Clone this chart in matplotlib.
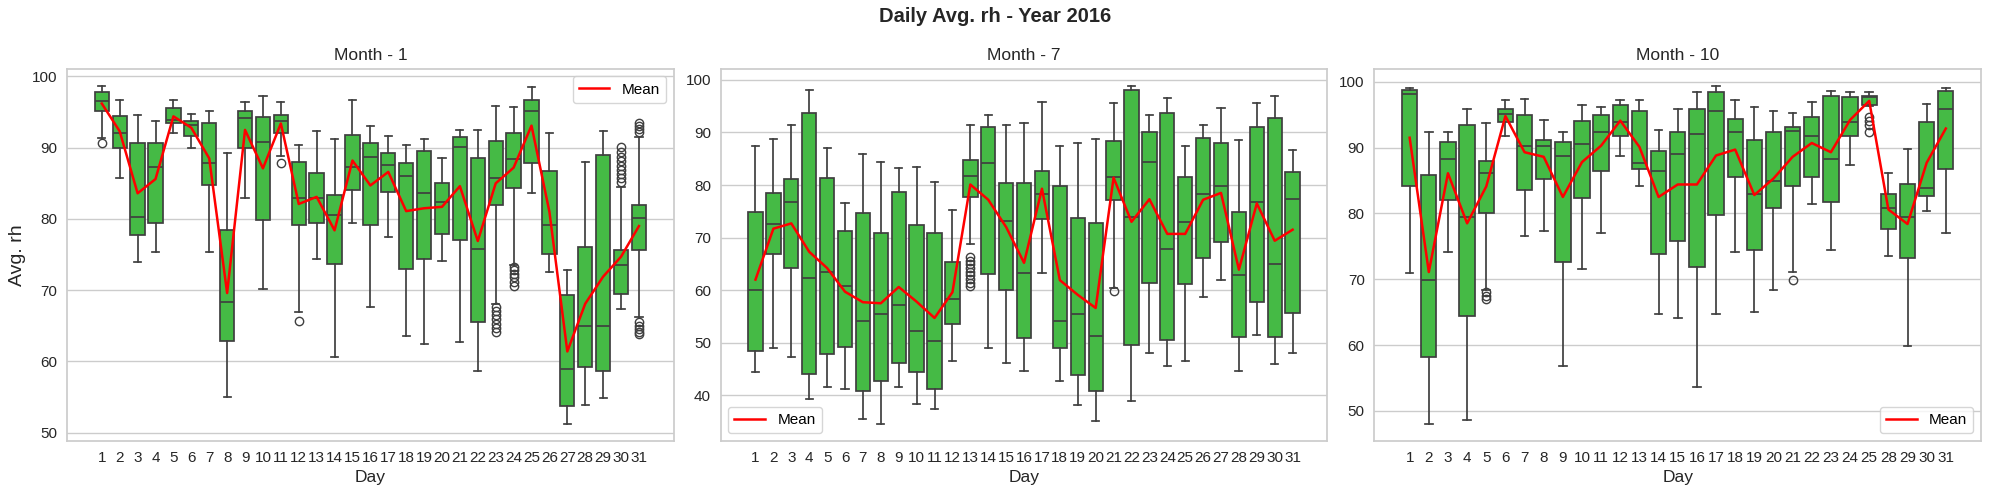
import matplotlib
matplotlib.use("Agg")
import matplotlib.pyplot as plt

plt.rcParams["font.family"] = ["Liberation Sans", "DejaVu Sans"]

# ---- Month 1 ----
days_jan = list(range(1, 32))
jan_low = [91.4, 85.8, 73.9, 75.4, 92.0, 90.0, 75.4, 55.0, 83.0, 70.2, 88.9, 66.9, 74.4, 60.6, 79.4, 67.6,
           77.4, 63.6, 62.4, 74.1, 62.7, 58.7, 68.1, 73.6, 83.7, 72.5, 51.2, 53.9, 54.8, 67.3, 66.2]
jan_q1 = [95.1, 90.0, 77.7, 79.5, 93.4, 91.7, 84.7, 62.8, 90.0, 79.8, 92.0, 79.2, 79.5, 73.7, 84.0, 79.1,
          83.8, 73.0, 74.4, 77.9, 77.1, 65.6, 81.9, 84.4, 87.8, 75.1, 53.7, 59.2, 58.6, 69.5, 75.6]
jan_med = [96.5, 92.1, 80.3, 87.3, 93.9, 93.2, 87.8, 68.3, 94.2, 90.8, 93.7, 83.0, 82.9, 80.5, 87.3, 88.7,
           87.6, 86.0, 83.6, 82.4, 90.1, 75.8, 85.8, 88.4, 95.2, 79.1, 58.9, 65.0, 65.0, 73.6, 80.2]
jan_q3 = [97.8, 94.4, 90.7, 90.6, 95.6, 93.8, 93.4, 78.4, 95.2, 94.3, 94.6, 88.0, 86.4, 83.3, 91.8, 90.6,
          89.2, 87.9, 89.6, 85.1, 91.5, 88.6, 91.0, 92.1, 96.7, 86.8, 69.3, 76.0, 89.0, 75.7, 82.0]
jan_high = [98.7, 96.7, 94.6, 93.8, 96.7, 94.8, 95.2, 89.2, 96.4, 97.3, 96.4, 90.4, 92.4, 91.2, 96.7, 93.1,
            91.6, 90.4, 91.2, 88.5, 92.5, 92.5, 95.9, 95.7, 98.5, 92.1, 72.8, 88.0, 92.4, 84.5, 91.5]
jan_mean = [96.2, 92.3, 83.6, 85.6, 94.4, 92.8, 88.5, 69.6, 92.5, 87.1, 93.4, 82.1, 83.1, 78.4, 88.2, 84.7,
            86.6, 81.1, 81.5, 81.7, 84.6, 76.9, 85.0, 87.2, 93.1, 81.0, 61.4, 68.1, 71.9, 74.7, 79.0]
jan_fliers = {1: [90.7], 11: [87.9], 12: [65.7],
              23: [67.7, 67.1, 66.5, 65.9, 65.3, 64.7, 64.1],
              24: [73.3, 72.8, 72.3, 71.8, 71.2, 70.6],
              30: [90.1, 89.4, 88.7, 88.1, 87.5, 86.9, 86.3, 85.7, 85.2],
              31: [93.4, 93.0, 92.6, 92.2, 65.5, 65.0, 64.6, 64.2, 63.8]}

# ---- Month 7 ----
days_jul = list(range(1, 32))
jul_low = [44.4, 48.9, 47.2, 39.2, 41.5, 41.1, 35.4, 34.5, 41.5, 38.3, 37.3, 46.5, 68.7, 48.9, 46.1, 44.7,
           63.2, 42.8, 38.1, 35.1, 60.4, 38.9, 48.0, 45.5, 46.6, 58.6, 61.9, 44.7, 51.4, 45.9, 48.0]
jul_q1 = [48.4, 66.8, 64.3, 44.1, 47.8, 49.1, 40.8, 42.8, 46.1, 44.4, 41.1, 53.5, 77.7, 63.0, 60.0, 50.8,
          73.6, 48.9, 43.9, 40.8, 77.1, 49.6, 61.3, 50.5, 61.1, 66.2, 69.1, 51.0, 57.7, 51.0, 55.6]
jul_med = [60.1, 72.5, 76.8, 62.4, 63.5, 60.7, 54.2, 55.4, 57.1, 52.2, 50.3, 58.4, 81.8, 84.2, 73.2, 63.2,
           78.2, 54.1, 55.4, 51.2, 81.6, 73.9, 84.4, 67.9, 73.0, 78.2, 79.9, 62.8, 76.8, 64.9, 77.4]
jul_q3 = [74.9, 78.5, 81.2, 93.8, 81.4, 71.3, 74.7, 70.9, 78.7, 72.3, 70.8, 65.4, 84.7, 91.0, 80.4, 80.3,
          82.7, 79.9, 73.8, 72.8, 88.4, 98.1, 90.1, 93.7, 81.6, 89.0, 88.0, 74.9, 91.1, 92.8, 82.5]
jul_high = [87.5, 88.8, 91.5, 98.1, 87.1, 76.6, 86.0, 84.4, 83.2, 83.5, 80.6, 75.3, 91.5, 93.4, 91.5, 91.9,
            95.8, 87.5, 88.0, 88.8, 95.6, 98.9, 93.4, 96.6, 87.5, 91.5, 94.7, 88.6, 95.6, 97.0, 86.7]
jul_mean = [62.0, 71.7, 72.7, 67.3, 64.2, 59.7, 57.7, 57.5, 60.6, 57.8, 54.7, 59.6, 80.1, 77.2, 72.0, 65.2,
            79.3, 61.9, 59.1, 56.6, 81.4, 73.0, 77.3, 70.7, 70.7, 77.2, 78.5, 63.9, 76.5, 69.4, 71.5]
jul_fliers = {13: [66.3, 65.6, 64.9, 64.2, 63.5, 62.8, 62.1, 61.4, 60.7],
              21: [59.9]}

# ---- Month 10 ----
days_oct = list(range(1, 26)) + [28, 29, 30, 31]
oct_low = [70.9, 48.0, 74.2, 48.7, 68.3, 91.7, 76.5, 77.3, 56.8, 71.5, 77.0, 88.8, 84.1, 64.8, 64.1,
           53.7, 64.8, 74.1, 65.0, 68.4, 71.1, 81.4, 74.4, 87.4, 96.3, 73.5, 59.9, 80.3, 77.0]
oct_q1 = [84.2, 58.2, 82.1, 64.4, 80.0, 93.9, 83.5, 85.3, 72.7, 82.4, 86.4, 91.8, 86.7, 73.9, 75.8,
          71.9, 79.7, 85.6, 74.5, 80.9, 84.2, 85.6, 81.7, 91.7, 96.5, 77.7, 73.2, 82.6, 86.7]
oct_med = [98.2, 69.9, 88.2, 79.4, 86.1, 95.1, 90.3, 90.2, 88.8, 90.6, 92.4, 93.9, 87.7, 86.5, 89.1,
           92.0, 95.6, 92.3, 83.0, 85.0, 92.5, 91.8, 88.2, 93.9, 97.7, 80.9, 79.5, 83.9, 95.9]
oct_q3 = [98.8, 85.8, 90.9, 93.5, 88.0, 95.9, 95.0, 91.2, 90.8, 94.1, 95.0, 96.5, 95.6, 89.5, 92.4,
          95.9, 98.5, 94.4, 91.1, 92.4, 93.2, 94.7, 97.9, 97.7, 97.9, 83.0, 84.4, 93.9, 98.6]
oct_high = [99.1, 92.4, 92.4, 95.9, 93.8, 97.3, 97.4, 94.2, 92.4, 96.5, 96.2, 97.3, 97.3, 92.6, 95.9,
            98.4, 99.4, 97.3, 96.1, 95.6, 95.3, 97.0, 98.6, 98.5, 98.5, 86.2, 89.8, 96.7, 99.1]
oct_mean = [91.5, 71.1, 86.1, 78.5, 84.1, 94.8, 89.3, 88.6, 82.5, 87.8, 90.3, 94.1, 90.1, 82.5, 84.4,
            84.4, 88.8, 89.7, 82.8, 85.3, 88.6, 90.7, 89.3, 94.2, 97.1, 80.6, 78.4, 87.7, 92.9]
oct_fliers = {5: [68.0, 67.4, 67.0], 21: [69.9], 25: [94.7, 94.1, 93.4, 92.4]}

months = [
    ("Month - 1", days_jan, jan_low, jan_q1, jan_med, jan_q3, jan_high, jan_mean, jan_fliers, "upper right"),
    ("Month - 7", days_jul, jul_low, jul_q1, jul_med, jul_q3, jul_high, jul_mean, jul_fliers, "lower left"),
    ("Month - 10", days_oct, oct_low, oct_q1, oct_med, oct_q3, oct_high, oct_mean, oct_fliers, "lower right"),
]

BOX_COLOR = "#45ba45"
LINE_COLOR = "#3f3f3f"
GRID_COLOR = "#cccccc"
TEXT_COLOR = "#262626"

fig, axes = plt.subplots(1, 3, figsize=(19.9, 4.95), dpi=100)
fig.subplots_adjust(left=0.0337, right=0.9955, bottom=0.109, top=0.861, wspace=0.0776)

for ax, (title, days, lo, q1, med, q3, hi, mean, fl, loc) in zip(axes, months):
    stats = []
    for i, d in enumerate(days):
        stats.append({"whislo": lo[i], "q1": q1[i], "med": med[i], "q3": q3[i],
                      "whishi": hi[i], "fliers": fl.get(d, [])})
    pos = list(range(len(days)))
    ax.bxp(stats, positions=pos, widths=0.8, capwidths=0.4, patch_artist=True, manage_ticks=False,
           boxprops=dict(facecolor=BOX_COLOR, edgecolor=LINE_COLOR, linewidth=1.25),
           medianprops=dict(color=LINE_COLOR, linewidth=1.25),
           whiskerprops=dict(color=LINE_COLOR, linewidth=1.25),
           capprops=dict(color=LINE_COLOR, linewidth=1.25),
           flierprops=dict(marker="o", markerfacecolor="none", markeredgecolor=LINE_COLOR,
                           markersize=6, markeredgewidth=1.0))
    ax.plot(pos, mean, color="red", linewidth=1.8, label="Mean", zorder=5)

    span = (len(days) - 1) + 0.8
    ax.set_xlim(-0.4 - 0.05 * span, len(days) - 1 + 0.4 + 0.05 * span)
    ax.set_xticks(pos)
    ax.set_xticklabels([str(d) for d in days])

    ax.set_axisbelow(True)
    ax.yaxis.grid(True, color=GRID_COLOR, linewidth=1)
    ax.xaxis.grid(False)
    for s in ax.spines.values():
        s.set_color(GRID_COLOR)
        s.set_linewidth(1.25)
    ax.tick_params(length=0, labelsize=11, colors=TEXT_COLOR, pad=7)
    ax.set_title(title, fontsize=12.5, color=TEXT_COLOR, pad=6)
    ax.set_xlabel("Day", fontsize=12.5, color=TEXT_COLOR)
    ax.legend(loc=loc, fontsize=11, frameon=True, edgecolor=GRID_COLOR, fancybox=True)

axes[0].set_ylabel("Avg. rh", fontsize=14, color=TEXT_COLOR)

fig.suptitle("Daily Avg. rh - Year 2016", fontsize=14.5, fontweight="bold", color=TEXT_COLOR, y=0.985)

fig.savefig("out.png", dpi=100, facecolor="white")
